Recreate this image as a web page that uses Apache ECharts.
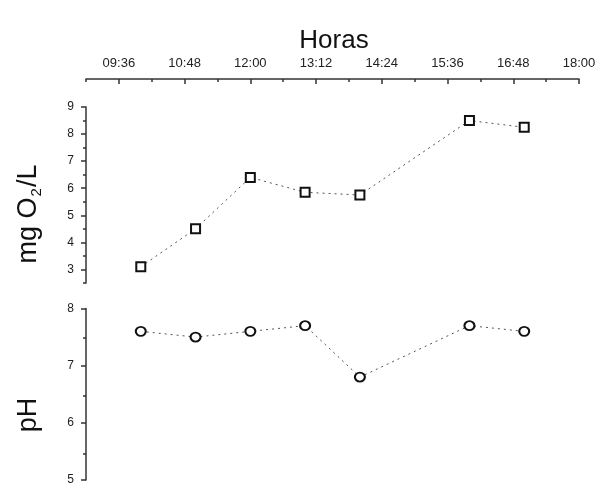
<!DOCTYPE html>
<html>
<head>
<meta charset="utf-8">
<script src="https://cdn.jsdelivr.net/npm/echarts@6/dist/echarts.min.js"></script>
<style>
  html, body { margin: 0; padding: 0; background: #fff; }
  #chart { width: 600px; height: 486px; }
</style>
</head>
<body>
<div id="chart"></div>
<script>
// Sampling times and measured values
const times = ['10:00', '11:00', '12:00', '13:00', '14:00', '16:00', '17:00'];
const oxygen = [3.1, 4.5, 6.4, 5.85, 5.75, 8.5, 8.25];   // mg O2/L
const ph = [7.6, 7.5, 7.6, 7.7, 6.8, 7.7, 7.6];

// Axis ranges and tick labels
const timeRange = ['09:00', '18:00'];
const timeTicks = ['09:36', '10:48', '12:00', '13:12', '14:24', '15:36', '16:48', '18:00'];
const oxygenTicks = [3, 4, 5, 6, 7, 8, 9];
const oxygenRange = [2.5, 9];
const phTicks = [5, 6, 7, 8];
const phRange = [5, 8];

const toMin = s => { const [h, m] = s.split(':').map(Number); return h * 60 + m; };
const fmtTime = v => {
  const h = Math.floor(v / 60), m = Math.round(v - h * 60);
  return String(h).padStart(2, '0') + ':' + String(m).padStart(2, '0');
};

const xMin = toMin(timeRange[0]), xMax = toMin(timeRange[1]);
const xMajor = timeTicks.map(toMin);
const xMinor = xMajor.map(v => v - 36);
const oxMinor = oxygenTicks.map(v => v - 0.5);
const phMinor = phTicks.slice(1).map(v => v - 0.5);

const FONT = "'Liberation Sans', Arial, sans-serif";
const INK = '#222';
const AXIS = '#333';

const rectA = { left: 86, top: 107, width: 493, height: 176 };
const rectB = { left: 86, top: 308.5, width: 493, height: 174 };

const hiddenX = (gridIndex) => ({
  type: 'value', gridIndex, min: xMin, max: xMax, show: false
});

const minorY = (gridIndex, range, ticks) => ({
  type: 'value', gridIndex, min: range[0], max: range[1], position: 'left',
  axisLine: { show: false }, splitLine: { show: false }, axisLabel: { show: false },
  axisTick: { show: true, length: 3, customValues: ticks, lineStyle: { color: AXIS, width: 1.5 } }
});

const majorY = (gridIndex, range, ticks) => ({
  type: 'value', gridIndex, min: range[0], max: range[1], position: 'left',
  axisLine: { show: true, lineStyle: { color: AXIS, width: 1.5 } },
  splitLine: { show: false },
  axisTick: { show: true, length: 5, customValues: ticks, lineStyle: { color: AXIS, width: 1.5 } },
  axisLabel: { show: true, customValues: ticks, margin: 12, color: INK, fontSize: 12, fontFamily: FONT }
});

const chart = echarts.init(document.getElementById('chart'));
chart.setOption({
  animation: false,
  backgroundColor: '#fff',
  grid: [
    Object.assign({}, rectA),
    Object.assign({}, rectB),
    Object.assign({}, rectA),
    Object.assign({}, rectB)
  ],
  xAxis: [
    {
      type: 'value', gridIndex: 0, min: xMin, max: xMax, position: 'top', offset: 28,
      axisLine: { show: true, lineStyle: { color: AXIS, width: 1.5 } },
      splitLine: { show: false },
      axisTick: { show: true, inside: true, length: 5, customValues: xMajor, lineStyle: { color: AXIS, width: 1.5 } },
      axisLabel: { show: true, customValues: xMajor, margin: 9, formatter: fmtTime,
                   color: INK, fontSize: 13, fontFamily: FONT }
    },
    hiddenX(1),
    {
      type: 'value', gridIndex: 2, min: xMin, max: xMax, position: 'top', offset: 28,
      axisLine: { show: false }, splitLine: { show: false }, axisLabel: { show: false },
      axisTick: { show: true, inside: true, length: 3, customValues: xMinor, lineStyle: { color: AXIS, width: 1.5 } }
    },
    hiddenX(3)
  ],
  yAxis: [
    majorY(0, oxygenRange, oxygenTicks),
    majorY(1, phRange, phTicks),
    minorY(2, oxygenRange, oxMinor),
    minorY(3, phRange, phMinor)
  ],
  graphic: [
    {
      // time axis title
      type: 'text', x: 334, y: 41,
      style: { text: 'Horas', align: 'center', verticalAlign: 'middle', fontSize: 26, fontFamily: FONT, fill: '#111' }
    },
    {
      type: 'text', x: 29, y: 214, rotation: Math.PI / 2,
      style: {
        text: '{a|mg O}{s|2}{a|/L}',
        align: 'center', verticalAlign: 'middle',
        rich: {
          a: { fontSize: 27, fontFamily: FONT, fill: '#111', lineHeight: 30 },
          s: { fontSize: 15, fontFamily: FONT, fill: '#111', lineHeight: 30, verticalAlign: 'bottom', padding: [0, 1, 0, 1] }
        }
      }
    },
    {
      type: 'text', x: 29, y: 415, rotation: Math.PI / 2,
      style: { text: 'pH', align: 'center', verticalAlign: 'middle', fontSize: 27, fontFamily: FONT, fill: '#111' }
    }
  ],
  series: [
    {
      type: 'line', xAxisIndex: 0, yAxisIndex: 0,
      data: times.map((t, i) => [toMin(t), oxygen[i]]),
      symbol: 'emptyRect', symbolSize: 9,
      itemStyle: { color: '#111', borderWidth: 1.5 },
      lineStyle: { color: '#555', width: 1, type: [2, 4] }
    },
    {
      type: 'line', xAxisIndex: 1, yAxisIndex: 1,
      data: times.map((t, i) => [toMin(t), ph[i]]),
      symbol: 'emptyCircle', symbolSize: [10, 9],
      itemStyle: { color: '#111', borderWidth: 1.5 },
      lineStyle: { color: '#555', width: 1, type: [2, 4] }
    }
  ]
});
</script>
</body>
</html>
